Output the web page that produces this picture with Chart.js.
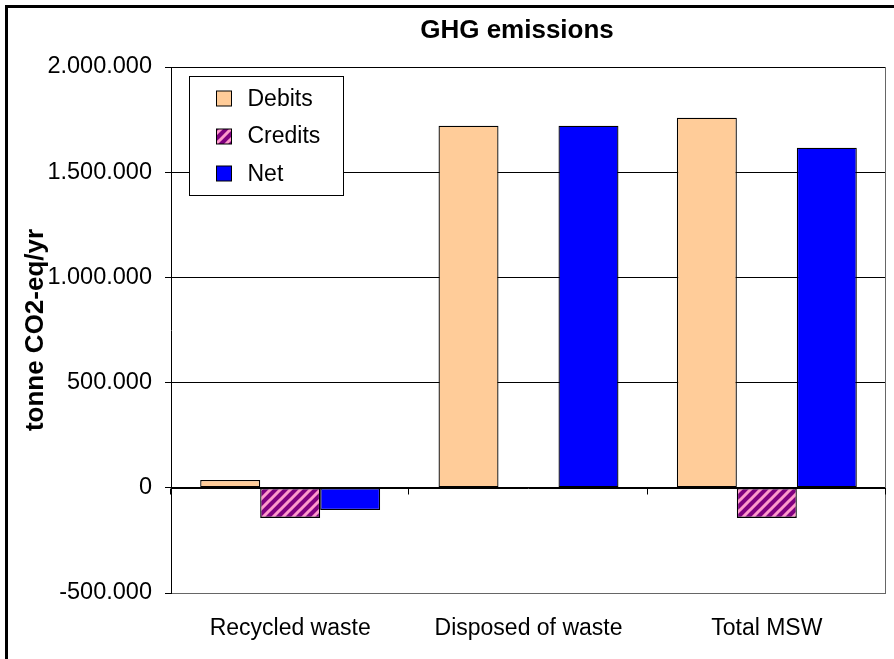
<!DOCTYPE html>
<html>
<head>
<meta charset="utf-8">
<title>GHG emissions</title>
<script src="https://cdn.jsdelivr.net/npm/chart.js"></script>
<style>
    html, body { margin: 0; padding: 0; background: #fff; overflow: hidden; }
    #wrap { position: relative; width: 894px; height: 659px; }
    #frame {
        position: absolute; left: 5px; top: 5px; width: 2000px; height: 2000px;
        border-left: 3px solid #000; border-top: 3px solid #000;
        pointer-events: none;
    }
    canvas { position: absolute; left: 0; top: 0; }
</style>
</head>
<body>
<div id="wrap">
    <canvas id="ghg-chart" width="894" height="659"></canvas>
    <div id="frame"></div>
</div>
<script>
// データ
const categories = ['Recycled waste', 'Disposed of waste', 'Total MSW'];
const debits = [37000, 1721000, 1759000];
const credits = [-143000, 0, -143000];
const net = [-106000, 1721000, 1616000];
const yTicks = [-500000, 0, 500000, 1000000, 1500000, 2000000];

const FONT = "'Liberation Sans', Arial, sans-serif";
Chart.defaults.font.family = FONT;
Chart.defaults.color = '#000';

// 2.000.000 形式
function fmt(v) {
    return String(v).replace(/\B(?=(\d{3})+(?!\d))/g, '.');
}

// Credits の斜線パターン
function stripePattern() {
    const tile = document.createElement('canvas');
    tile.width = 10;
    tile.height = 10;
    const t = tile.getContext('2d');
    t.fillStyle = '#800080';
    t.fillRect(0, 0, 10, 10);
    t.strokeStyle = '#ff99cc';
    t.lineWidth = 3;
    t.beginPath();
    t.moveTo(-5, 5); t.lineTo(5, -5);
    t.moveTo(0, 10); t.lineTo(10, 0);
    t.moveTo(5, 15); t.lineTo(15, 5);
    t.stroke();
    return t.createPattern(tile, 'repeat');
}

// タイトル・枠・ゼロ軸の目盛・凡例
const excelBits = {
    id: 'excelBits',
    afterDatasetsDraw(chart) {
        const ctx = chart.ctx;
        const area = chart.chartArea;
        const x = chart.scales.x;
        const y = chart.scales.y;
        ctx.save();
        // 右枠
        ctx.strokeStyle = '#666';
        ctx.lineWidth = 1;
        ctx.beginPath();
        ctx.moveTo(area.right - 0.5, area.top);
        ctx.lineTo(area.right - 0.5, area.bottom);
        ctx.stroke();
        // ゼロ軸の目盛
        const y0 = Math.round(y.getPixelForValue(0)) + 0.5;
        const step = (x.right - x.left) / categories.length;
        ctx.strokeStyle = '#000';
        ctx.beginPath();
        ctx.moveTo(area.left, y0);
        ctx.lineTo(area.right, y0);
        for (let i = 0; i <= categories.length; i++) {
            const px = Math.round(x.left + i * step) - 0.5;
            ctx.moveTo(px, y0);
            ctx.lineTo(px, y0 + 6);
        }
        ctx.stroke();
        ctx.restore();
    },
    afterDraw(chart) {
        const ctx = chart.ctx;
        const area = chart.chartArea;
        ctx.save();
        // タイトル
        ctx.font = 'bold 26px ' + FONT;
        ctx.fillStyle = '#000';
        ctx.textAlign = 'center';
        ctx.textBaseline = 'middle';
        ctx.fillText('GHG emissions', 517, 31);
        // 凡例
        const bx = area.left + 18.5;
        const by = area.top + 9.5;
        ctx.fillStyle = '#fff';
        ctx.fillRect(bx, by, 154, 119);
        ctx.strokeStyle = '#000';
        ctx.lineWidth = 1;
        ctx.strokeRect(bx, by, 154, 119);
        ctx.font = '23px ' + FONT;
        ctx.textAlign = 'left';
        chart.data.datasets.forEach((ds, i) => {
            const cy = by + 22 + i * 37.5;
            ctx.fillStyle = ds.backgroundColor;
            ctx.fillRect(bx + 27, Math.round(cy - 7.5), 15, 15);
            ctx.strokeRect(bx + 27, Math.round(cy - 7.5), 15, 15);
            ctx.fillStyle = '#000';
            ctx.fillText(ds.label, bx + 58, cy + 1);
        });
        ctx.restore();
    }
};

const canvas = document.getElementById('ghg-chart');
const credPattern = stripePattern();

new Chart(canvas.getContext('2d'), {
    type: 'bar',
    data: {
        labels: categories,
        datasets: [
            { label: 'Debits', data: debits, backgroundColor: '#ffcc99' },
            { label: 'Credits', data: credits, backgroundColor: credPattern },
            { label: 'Net', data: net, backgroundColor: '#0000ff' }
        ]
    },
    options: {
        responsive: false,
        animation: false,
        devicePixelRatio: 1,
        layout: { padding: { top: 67, right: 8, left: 0, bottom: 0 } },
        datasets: {
            bar: {
                borderColor: '#000',
                borderWidth: 1.3,
                borderSkipped: false,
                categoryPercentage: 0.755,
                barPercentage: 1
            }
        },
        plugins: {
            legend: { display: false },
            title: { display: false },
            tooltip: { enabled: false }
        },
        scales: {
            x: {
                grid: { display: false, drawTicks: false },
                border: { display: false },
                ticks: { font: { size: 23 }, color: '#000', padding: 22 },
                afterFit(scale) { scale.height = 66; }
            },
            y: {
                min: -500000,
                max: 2000000,
                afterBuildTicks(scale) {
                    scale.ticks = yTicks.map(v => ({ value: v }));
                },
                ticks: {
                    font: { size: 23.5 },
                    color: '#000',
                    padding: 13,
                    callback: v => fmt(v)
                },
                grid: {
                    color: ctx => ctx.tick && ctx.tick.value === -500000 ? '#666' : '#000',
                    tickColor: '#000',
                    tickLength: 6
                },
                border: { display: true, color: '#000', width: 1 },
                title: {
                    display: true,
                    text: 'tonne CO2-eq/yr',
                    font: { size: 26, weight: 'bold' },
                    color: '#000',
                    padding: { top: 20, bottom: 0 }
                },
                afterFit(scale) { scale.width = 171; }
            }
        }
    },
    plugins: [excelBits]
});
</script>
</body>
</html>
